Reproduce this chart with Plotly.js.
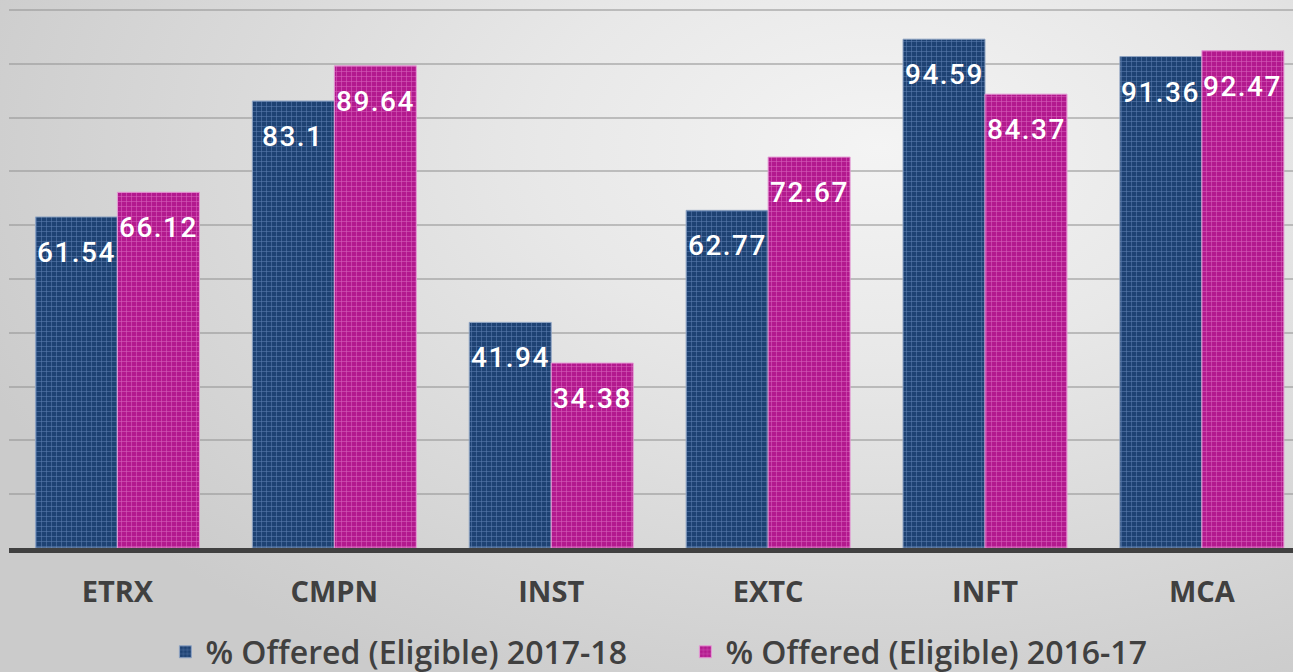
<!DOCTYPE html>
<html>
<head>
<meta charset="utf-8">
<script src="https://cdn.plot.ly/plotly-3.0.1.min.js"></script>
<style>
  html, body { margin: 0; padding: 0; width: 1293px; height: 672px; overflow: hidden; }
  body { background: radial-gradient(ellipse 75% 90% at 68% 22%, #f4f4f4 0%, #e8e8e8 35%, #d6d6d6 75%, #cbcbcb 100%); }
  #chart { width: 1293px; height: 672px; }
  .annotation-text { letter-spacing: 1.5px; }
</style>
</head>
<body>
<div id="chart"></div>
<script>
const categories = ["ETRX", "CMPN", "INST", "EXTC", "INFT", "MCA"];
const series2017 = [61.54, 83.1, 41.94, 62.77, 94.59, 91.36];
const series2016 = [66.12, 89.64, 34.38, 72.67, 84.37, 92.47];
const seriesNames = ["% Offered (Eligible) 2017-18", "% Offered (Eligible) 2016-17"];

const blue = "#1e4273";
const pink = "#b3198e";

const traces = [
  {
    type: "bar", x: categories, y: series2017, name: seriesNames[0],
    marker: { color: blue, line: { color: "#8ea3c2", width: 1 },
      pattern: { shape: "+", size: 5, solidity: 0.22, fillmode: "overlay", bgcolor: blue, fgcolor: "#5f80b2", fgopacity: 0.9 } },
    hoverinfo: "none"
  },
  {
    type: "bar", x: categories, y: series2016, name: seriesNames[1],
    marker: { color: pink, line: { color: "#e49ad4", width: 1 },
      pattern: { shape: "+", size: 5, solidity: 0.22, fillmode: "overlay", bgcolor: pink, fgcolor: "#d865bd", fgopacity: 0.9 } },
    hoverinfo: "none"
  }
];

const annotations = [];
const shiftPx = 41;
[series2017, series2016].forEach((vals, si) => {
  vals.forEach((v, i) => {
    annotations.push({
      x: categories[i], y: v, xref: "x", yref: "y",
      text: String(v), showarrow: false,
      xshift: si === 0 ? -shiftPx : shiftPx,
      yanchor: "top", yshift: -17,
      font: { family: "Roboto, sans-serif", size: 28, color: "#ffffff", weight: 500 }
    });
  });
});

const layout = {
  width: 1293, height: 672,
  margin: { l: 9, r: 0, t: 9, b: 124, autoexpand: false },
  paper_bgcolor: "rgba(0,0,0,0)",
  plot_bgcolor: "rgba(0,0,0,0)",
  barmode: "group",
  bargap: 0.244,
  bargroupgap: 0,
  showlegend: true,
  legend: {
    orientation: "h", xref: "paper", x: 0.1218, xanchor: "left",
    yref: "container", y: 0.0298, yanchor: "middle",
    entrywidth: 475,
    font: { family: "Open Sans, sans-serif", size: 32, color: "#404040", weight: 600 },
    bgcolor: "rgba(0,0,0,0)"
  },
  xaxis: {
    range: [-0.5, 5.42], type: "category",
    showline: true, linecolor: "#404040", linewidth: 5,
    ticks: "", showgrid: false, zeroline: false,
    tickfont: { family: "Open Sans, sans-serif", size: 29, color: "#404040", weight: 700 },
    ticklabelstandoff: 14
  },
  yaxis: {
    range: [0, 100.2], tickvals: [10, 20, 30, 40, 50, 60, 70, 80, 90, 100], showticklabels: false, ticks: "",
    showgrid: true, gridcolor: "rgba(150,150,150,0.55)", gridwidth: 2,
    zeroline: false, showline: false
  },
  annotations: annotations
};

Plotly.newPlot("chart", traces, layout, { displayModeBar: false, staticPlot: true });
</script>
</body>
</html>
